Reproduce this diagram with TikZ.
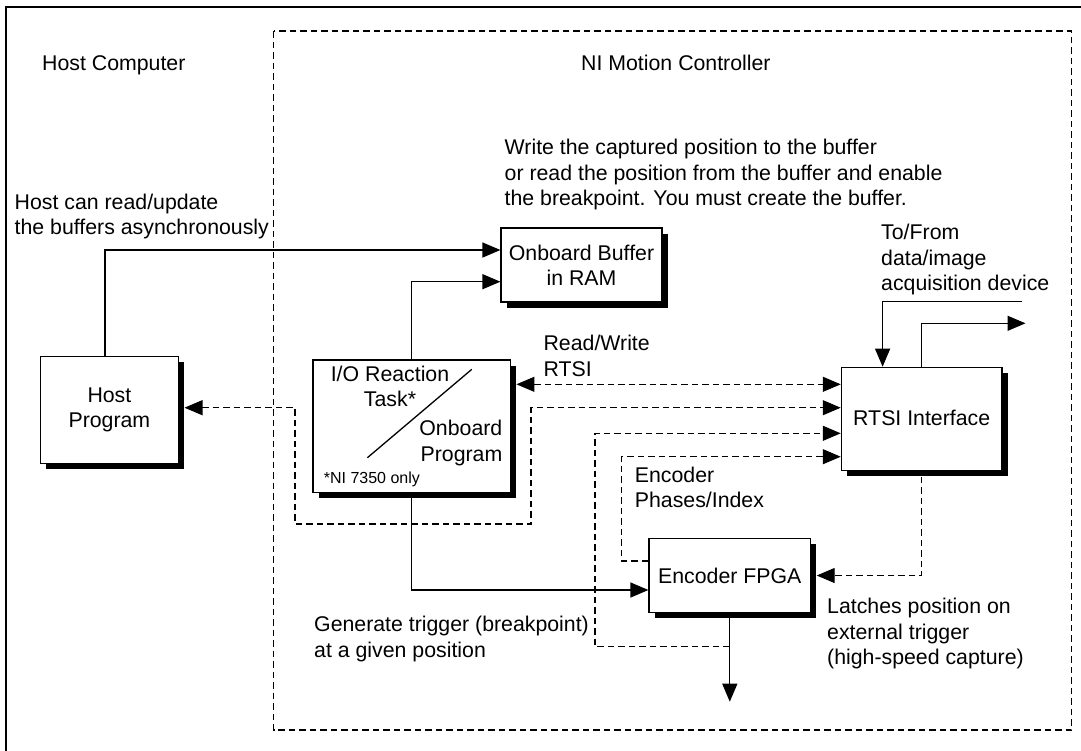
\documentclass[tikz,border=0pt]{standalone}
\usepackage{fontspec}
\setmainfont{Liberation Sans}
\usetikzlibrary{arrows.meta,shadows}
\begin{document}
\begin{tikzpicture}[x=1pt,y=-1pt,
  txt/.style={inner sep=0pt, font=\fontsize{21.3pt}{25.3pt}\selectfont},
  smalltxt/.style={inner sep=0pt, font=\fontsize{16pt}{19pt}\selectfont},
  box/.style={draw, line width=1.2pt, fill=white, inner sep=0pt, align=center,
    font=\fontsize{21.3pt}{25.3pt}\selectfont,
    drop shadow={opacity=1, fill=black, shadow xshift=5.5pt, shadow yshift=-5.5pt}},
  tip/.tip={Triangle[length=18pt,width=15pt]},
  conn/.style={line width=1.3pt, -tip},
  dconn/.style={line width=1.2pt, dash pattern=on 6.5pt off 4pt},
  region/.style={line width=1.2pt, dash pattern=on 6.5pt off 4pt}
]
\useasboundingbox (0,0) rectangle (1081,750);

% frame (only top and left edges inside the picture)
\draw[line width=2.3pt] (5.8,752) -- (5.8,7) -- (1083,7);
% NI Motion Controller region
\draw[region] (273.5,31) rectangle (1071.7,730);

% titles and notes
\node[txt, anchor=west] (thost) at (42,65) {Host Computer};
\node[txt, anchor=west] (tni) at (581,63) {NI Motion Controller};
\node[txt, anchor=west, align=left] (twrite) at (504.5,174.7)
  {Write the captured position to the buffer\\or read the position from the buffer and enable\\the breakpoint. You must create the buffer.};
\node[txt, anchor=west, align=left] (thostcan) at (14.5,216.7)
  {Host can read/update\\the buffers asynchronously};
\node[txt, anchor=west, align=left] (tto) at (881,259.7)
  {To/From\\data/image\\acquisition device};
\node[txt, anchor=west, align=left] (trw) at (543.4,355.8) {Read/Write\\RTSI};
\node[txt, anchor=west, align=left] (tenc) at (634.7,487.5) {Encoder\\Phases/Index};
\node[txt, anchor=west, align=left] (tgen) at (314,638.9)
  {Generate trigger (breakpoint)\\at a given position};
\node[txt, anchor=west, align=left] (tlatch) at (827,633.5)
  {Latches position on\\external trigger\\(high-speed capture)};

% boxes
\node[box, minimum width=161pt, minimum height=74pt] (buf) at (581.5,265) {Onboard Buffer\\in RAM};
\node[box, minimum width=138pt, minimum height=107pt] (host) at (109.4,409.7) {Host\\Program};
\node[box, minimum width=197.3pt, minimum height=132.3pt] (io) at (411.7,426.2) {};
\node[box, minimum width=160.7pt, minimum height=103.4pt] (rtsi) at (921.7,419) {\raisebox{3pt}{RTSI Interface}};
\node[box, minimum width=161.6pt, minimum height=74.4pt] (fpga) at (729.8,575.5) {Encoder FPGA};

% contents of the I/O Reaction / Onboard Program box
\draw[line width=1.3pt] ([shift={(-44.3,31.5)}]io.center) -- ([shift={(60.1,-56.9)}]io.center);
\node[txt, align=center] (tio) at (390,386.6) {I/O Reaction\\Task*};
\node[txt, align=right, anchor=east] (tob) at (502.5,443) {Onboard\\Program};
\node[smalltxt, anchor=west] (tni7350) at (323.7,479.4) {*NI 7350 only};

% helper points
\coordinate (hostR) at ([xshift=5.5pt]host.east);
\coordinate (ioR) at ([xshift=5.5pt]io.east);
\coordinate (fpgaR) at ([xshift=5.5pt]fpga.east);
\coordinate (r1) at ([yshift=34.7pt]rtsi.west);
\coordinate (r2) at ([yshift=11.3pt]rtsi.west);
\coordinate (r3) at ([yshift=-14.3pt]rtsi.west);
\coordinate (r4) at ([yshift=-37.7pt]rtsi.west);
\coordinate (extin) at (1022,301.7);
\coordinate (extout) at (1025.5,323.3);
\coordinate (fout) at (729.8,701.7);

% solid connectors
\draw[conn] ([xshift=-4.4pt]host.north) |- ([yshift=15pt]buf.west);
\draw[conn] (io.north) |- ([yshift=-16.7pt]buf.west);
\draw[conn] (io.south) |- ([yshift=-14.5pt]fpga.west);
\draw[conn] (fpga.south) -- (fout);
\draw[conn] (extin) -| ([xshift=-39.1pt]rtsi.north);
\draw[conn] (rtsi.north) |- (extout);

% dashed connectors
\draw[dconn, tip-tip] (ioR |- r1) -- (r1);
\draw[dconn, tip-tip] (hostR |- r2) -- (295,407.7) |- (531,524) |- (r2);
\draw[dconn, -tip] (fpga.south |- 0,646.7) -| (595,433.3) -- (r3);
\draw[dconn, -tip] (fpga.west |- 0,561) -| (621.8,456.7) -- (r4);
\draw[dconn, -tip] ([yshift=-5.5pt]rtsi.south) |- (fpgaR);
\end{tikzpicture}
\end{document}
